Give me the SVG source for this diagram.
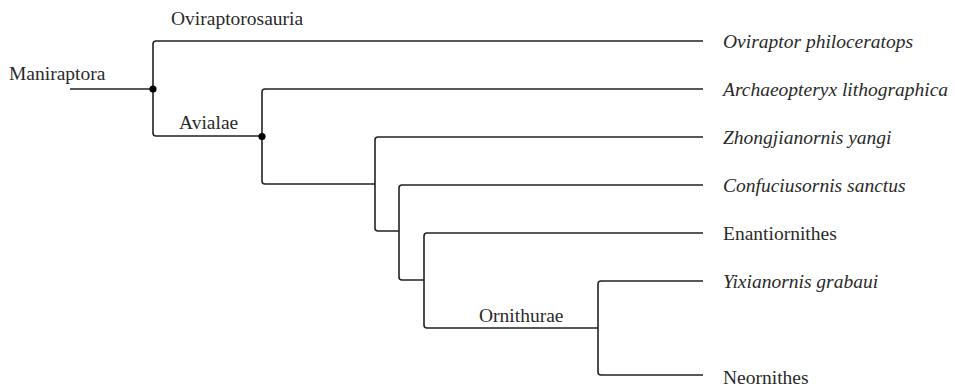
<svg xmlns="http://www.w3.org/2000/svg" width="955" height="389" viewBox="0 0 955 389">
<style>
.br{fill:none;stroke:#222;stroke-width:1.6;stroke-linejoin:round;stroke-linecap:butt}
.t{font-family:"Liberation Serif","Times New Roman",serif;font-size:19.5px;fill:#2a2a2a}
.i{font-style:italic}
.dot{fill:#000}
</style>
<rect width="955" height="389" fill="#fff"/>
<g id="connectors">
<path class="br" d="M70,89 H153"/>
<path class="br" d="M703,41 H156 Q153,41 153,44 V133 Q153,136 156,136 H262"/>
<path class="br" d="M703,89 H265 Q262,89 262,92 V181 Q262,184 265,184 H375"/>
<path class="br" d="M703,137 H378 Q375,137 375,140 V228 Q375,231 378,231 H399"/>
<path class="br" d="M703,185 H402 Q399,185 399,188 V277 Q399,280 402,280 H424"/>
<path class="br" d="M703,233 H427 Q424,233 424,236 V325 Q424,328 427,328 H598"/>
<path class="br" d="M703,281 H601 Q598,281 598,284 V372 Q598,375 601,375 H703"/>
</g>
<g id="node-maniraptora"><circle class="dot" cx="153" cy="89" r="3.6"/><text class="t" x="9" y="80">Maniraptora</text></g>
<g id="node-oviraptorosauria"><text class="t" x="171" y="25">Oviraptorosauria</text></g>
<g id="node-avialae"><circle class="dot" cx="262" cy="136.5" r="3.6"/><text class="t" x="179" y="129">Avialae</text></g>
<g id="node-ornithurae"><text class="t" x="479" y="322">Ornithurae</text></g>
<g id="tip-oviraptor"><text class="t i" x="723" y="47.5">Oviraptor philoceratops</text></g>
<g id="tip-archaeopteryx"><text class="t i" x="723" y="95.5">Archaeopteryx lithographica</text></g>
<g id="tip-zhongjianornis"><text class="t i" x="723" y="143.5">Zhongjianornis yangi</text></g>
<g id="tip-confuciusornis"><text class="t i" x="723" y="191.5">Confuciusornis sanctus</text></g>
<g id="tip-enantiornithes"><text class="t" x="723" y="239.5">Enantiornithes</text></g>
<g id="tip-yixianornis"><text class="t i" x="723" y="287.5">Yixianornis grabaui</text></g>
<g id="tip-neornithes"><text class="t" x="723" y="384">Neornithes</text></g>
</svg>
